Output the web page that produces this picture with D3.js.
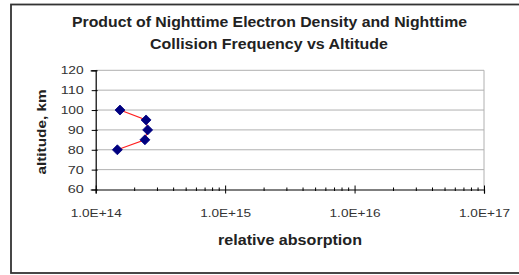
<!DOCTYPE html>
<html><head><meta charset="utf-8">
<script src="https://cdn.jsdelivr.net/npm/d3@7"></script>
<style>body{margin:0;background:#fff}svg{display:block}text{font-family:"Liberation Sans",Arial,sans-serif}</style>
</head><body>
<svg id="c" width="519" height="275"></svg>
<script>
const altitudes = [100, 95, 90, 85, 80];
const absorption = [1.54e14, 2.45e14, 2.52e14, 2.40e14, 1.47e14];
const yTicks = [60, 70, 80, 90, 100, 110, 120];
const xTicks = [1e14, 1e15, 1e16, 1e17];
const titleLines = ["Product of Nighttime Electron Density and Nighttime", "Collision Frequency vs Altitude"];

const svg = d3.select("#c");
svg.append("rect").attr("x",11).attr("y",4.5).attr("width",520).attr("height",268.5)
  .attr("fill","#fff").attr("stroke","#333").attr("stroke-width",1.8);

const L=95.7, R=484, T=70.3, B=189.5;
const x = d3.scaleLog().domain([1e14,1e17]).range([L,R]);
const y = d3.scaleLinear().domain([60,120]).range([B,T]);

// gridlines
svg.append("g").selectAll("line").data(yTicks.filter(d=>d>60)).join("line")
  .attr("x1",L).attr("x2",R).attr("y1",d=>y(d)).attr("y2",d=>y(d))
  .attr("stroke","#b0b0b0").attr("stroke-width",1);
svg.append("line").attr("x1",R).attr("x2",R).attr("y1",T).attr("y2",B).attr("stroke","#b0b0b0");

// y axis
const ya = svg.append("g").attr("transform",`translate(${L},0)`)
  .call(d3.axisLeft(y).tickValues(yTicks).tickSize(5).tickPadding(7));
ya.select(".domain").attr("stroke","#000").attr("stroke-width",1.2);
ya.selectAll(".tick line").attr("stroke","#000").attr("x2",-4).attr("x1",2);
ya.selectAll("text").attr("font-size",10.5).attr("fill","#333").attr("textLength",d=>d>=100?23:16).attr("lengthAdjust","spacingAndGlyphs");

// x axis
const minor = [];
for (let e=14;e<17;e++) for (let m=2;m<=9;m++) minor.push(m*Math.pow(10,e));
const xa = svg.append("g").attr("transform",`translate(0,${B})`)
  .call(d3.axisBottom(x).tickValues(xTicks).tickSize(4).tickPadding(16).tickFormat(d=>"1.0E+"+Math.round(Math.log10(d))));
xa.select(".domain").attr("stroke","#000").attr("stroke-width",1.2);
xa.selectAll(".tick line").attr("stroke","#000").attr("y1",-4).attr("y2",4);
xa.selectAll("text").attr("font-size",11).attr("fill","#333").attr("textLength",51).attr("lengthAdjust","spacingAndGlyphs");
svg.append("g").selectAll("line").data(minor).join("line")
  .attr("x1",d=>x(d)).attr("x2",d=>x(d)).attr("y1",B-2).attr("y2",B+1.5)
  .attr("stroke","#000").attr("stroke-width",1);

// line
const pts = altitudes.map((a,i)=>({a, v:absorption[i]}));
svg.append("path").datum(pts)
  .attr("d", d3.line().x(d=>x(d.v)).y(d=>y(d.a)))
  .attr("fill","none").attr("stroke","#ff2020").attr("stroke-width",1.2);
svg.append("g").selectAll("path").data(pts).join("path")
  .attr("transform",d=>`translate(${x(d.v)},${y(d.a)})`)
  .attr("d","M0,-5L5,0L0,5L-5,0Z")
  .attr("fill","#000080").attr("stroke","#000080").attr("stroke-width",0.8).attr("stroke-linejoin","round");

// titles
svg.append("text").attr("x",269.5).attr("y",27).attr("text-anchor","middle")
  .attr("font-size",14.5).attr("font-weight","bold").attr("fill","#222").attr("textLength",395).attr("lengthAdjust","spacingAndGlyphs").text(titleLines[0]);
svg.append("text").attr("x",269).attr("y",49).attr("text-anchor","middle")
  .attr("font-size",14.5).attr("font-weight","bold").attr("fill","#222").attr("textLength",238).attr("lengthAdjust","spacingAndGlyphs").text(titleLines[1]);
svg.append("text").attr("x",290).attr("y",245).attr("text-anchor","middle")
  .attr("font-size",14).attr("font-weight","bold").attr("fill","#222").attr("textLength",144).attr("lengthAdjust","spacingAndGlyphs").text("relative absorption");
svg.append("text").attr("transform","translate(46,132) rotate(-90)").attr("text-anchor","middle")
  .attr("font-size",12.5).attr("font-weight","bold").attr("fill","#222").attr("textLength",85).attr("lengthAdjust","spacingAndGlyphs").text("altitude, km");
</script>
</body></html>
